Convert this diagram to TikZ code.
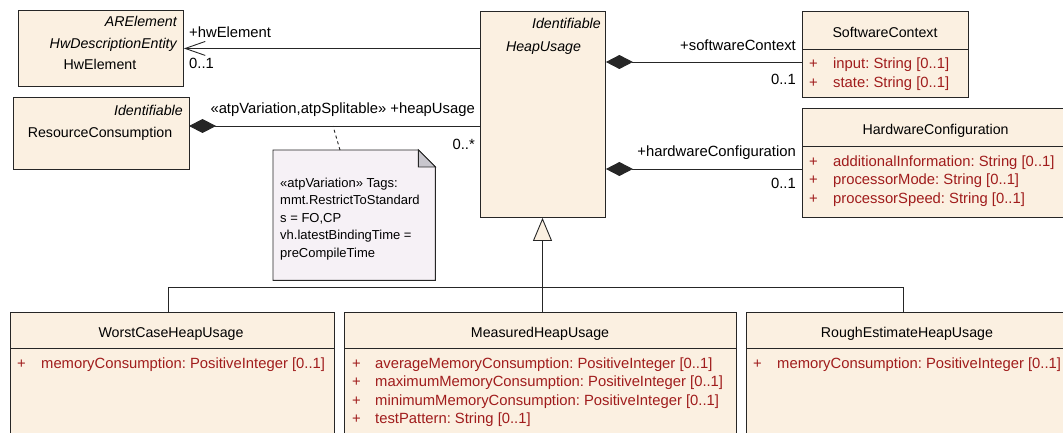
\documentclass[tikz,border=0pt]{standalone}
\usepackage{fontspec}
\setmainfont{Liberation Sans}
\usetikzlibrary{positioning,arrows.meta}

\definecolor{clsfill}{RGB}{251,240,225}
\definecolor{notefill}{RGB}{246,241,246}
\definecolor{foldgrey}{RGB}{200,198,205}
\definecolor{attrred}{RGB}{160,28,28}
\newcommand{\umlfont}{\fontsize{14.2}{17}\selectfont}
\newcommand{\attrfont}{\fontsize{14.8}{17}\selectfont}
\frenchspacing

\begin{document}
\begin{tikzpicture}[x=1pt, y=-1pt, font=\umlfont,
    cls/.style={draw=black!85, line width=0.9pt, fill=clsfill, anchor=north west, inner sep=0pt},
    txt/.style={inner sep=0pt, anchor=base},
    stereo/.style={inner sep=0pt, anchor=base east, font=\umlfont\itshape},
    role/.style={inner sep=0pt, anchor=base west, font=\attrfont},
    mult/.style={inner sep=0pt, anchor=base east, font=\attrfont},
    attr/.style={inner sep=0pt, anchor=base west, text=attrred, font=\attrfont},
    assoc/.style={line width=0.9pt, draw=black!85},
    comp/.style={assoc, {Diamond[length=27pt,width=14pt]}-},
    gen/.style={assoc, -{Triangle[open,length=23pt,width=19pt,fill=clsfill]}}]
    \useasboundingbox (0,0) rectangle (1063,433);
    \clip (0,0) rectangle (1063,433);

    % class boxes
    \node[cls, minimum width=165pt, minimum height=76pt] (hwel) at (18,10) {};
    \node[cls, minimum width=176pt, minimum height=72pt] (rescons) at (13,97) {};
    \node[cls, minimum width=125pt, minimum height=206pt] (heap) at (480,11) {};
    \node[cls, minimum width=166pt, minimum height=86pt] (swctx) at (802,11) {};
    \node[cls, minimum width=267pt, minimum height=109pt] (hwcfg) at (802,108) {};
    \node[cls, minimum width=324pt, minimum height=140pt] (worst) at (10,311.5) {};
    \node[cls, minimum width=392pt, minimum height=140pt] (measured) at (344,311.5) {};
    \node[cls, minimum width=322pt, minimum height=140pt] (rough) at (746,311.5) {};

    \foreach \c/\d in {swctx/38, hwcfg/38, worst/36.5, measured/36.5, rough/36.5}
        \draw[assoc] ([yshift=-\d pt]\c.north west) -- ([yshift=-\d pt]\c.north east);

    % names
    \node[stereo] (hwelS1) at (177,27) {ARElement};
    \node[stereo] (hwelS2) at (177,48.5) {HwDescriptionEntity};
    \node[txt] (hwelN) at (100,69.3) {HwElement};
    \node[stereo] (rcS) at (183,115.3) {Identifiable};
    \node[txt] (rcN) at (100,138) {ResourceConsumption};
    \node[stereo] (heapS) at (601,28.6) {Identifiable};
    \node[txt, font=\umlfont\itshape] (heapN) at (543.5,51.3) {HeapUsage};
    \node[txt] (swN) at (885,38) {SoftwareContext};
    \node[txt] (hwcN) at (935.6,134.3) {HardwareConfiguration};
    \node[txt] (worstN) at (171,337) {WorstCaseHeapUsage};
    \node[txt] (measN) at (540,337) {MeasuredHeapUsage};
    \node[txt] (roughN) at (907,337) {RoughEstimateHeapUsage};

    % attributes
    \foreach \t [count=\i from 0] in {{input: String [0..1]}, {state: String [0..1]}}
        \node[attr] (swA\i) at (809,68.3+19*\i) {\makebox[24pt][l]{+}\t};
    \foreach \t [count=\i from 0] in {{additionalInformation: String [0..1]},
            {processorMode: String [0..1]}, {processorSpeed: String [0..1]}}
        \node[attr] (hwcA\i) at (809,166.3+18.5*\i) {\makebox[24pt][l]{+}\t};
    \node[attr] (worstA0) at (17,368.5) {\makebox[24pt][l]{+}memoryConsumption: PositiveInteger [0..1]};
    \foreach \t [count=\i from 0] in {{averageMemoryConsumption: PositiveInteger [0..1]},
            {maximumMemoryConsumption: PositiveInteger [0..1]},
            {minimumMemoryConsumption: PositiveInteger [0..1]}, {testPattern: String [0..1]}}
        \node[attr] (measA\i) at (352,368.5+18.3*\i) {\makebox[23pt][l]{+}\t};
    \node[attr] (roughA0) at (753,368.5) {\makebox[24pt][l]{+}memoryConsumption: PositiveInteger [0..1]};

    % note
    \node[inner sep=0pt, anchor=north west, minimum width=162pt, minimum height=130pt] (note) at (273,150) {};
    \filldraw[fill=notefill, draw=black!85, line width=0.9pt] (note.north west) -- ([xshift=-17pt]note.north east)
        -- ([yshift=-17pt]note.north east) -- (note.south east) -- (note.south west) -- cycle;
    \filldraw[fill=foldgrey, draw=black!85, line width=0.9pt] ([xshift=-17pt]note.north east)
        -- ([xshift=-17pt,yshift=-17pt]note.north east) -- ([yshift=-17pt]note.north east) -- cycle;
    \foreach \t [count=\i from 0] in {{«atpVariation» Tags:}, {mmt.RestrictToStandard},
            {s = FO,CP}, {vh.latestBindingTime =}, {preCompileTime}}
        \node[role, font=\fontsize{13}{15}\selectfont] (noteL\i) at (280,187+17.5*\i) {\t};

    % connectors
    \coordinate (hu) at (189,126);
    \coordinate (notelink) at (333,126);
    \coordinate (swend) at (802,62);
    \coordinate (hwend) at (802,169);
    \coordinate (jw) at (168,287.6);
    \coordinate (jm) at (542.5,287.6);
    \coordinate (jr) at (903,287.6);

    \draw[assoc, -{Straight Barb[length=20pt,width=14pt]}] (heap.west |- hwel.east) -- (hwel.east);
    \draw[comp] (hu) -- (heap.west |- hu);
    \draw[comp] (heap.east |- swend) -- (swend);
    \draw[comp] (heap.east |- hwend) -- (hwend);
    \draw[gen] (jm |- measured.north) -- (jm |- heap.south);
    \draw[assoc] (jw |- worst.north) -- (jw) -- (jr) -- (jr |- rough.north);
    \draw[assoc, dashed] ([xshift=67pt]note.north west) -- (notelink);

    % role names and multiplicities
    \node[role] (hwRole) at (189,37.6) {+hwElement};
    \node[role] (hwMult) at (189,68.3) {0..1};
    \node[mult] (huRole) at (475,113.3) {«atpVariation,atpSplitable» +heapUsage};
    \node[mult] (huMult) at (475,149.3) {0..*};
    \node[mult] (swRole) at (796,51) {+softwareContext};
    \node[mult] (swMult) at (796,84.3) {0..1};
    \node[mult] (hwcRole) at (796,157) {+hardwareConfiguration};
    \node[mult] (hwcMult) at (796,188.3) {0..1};
\end{tikzpicture}
\end{document}
